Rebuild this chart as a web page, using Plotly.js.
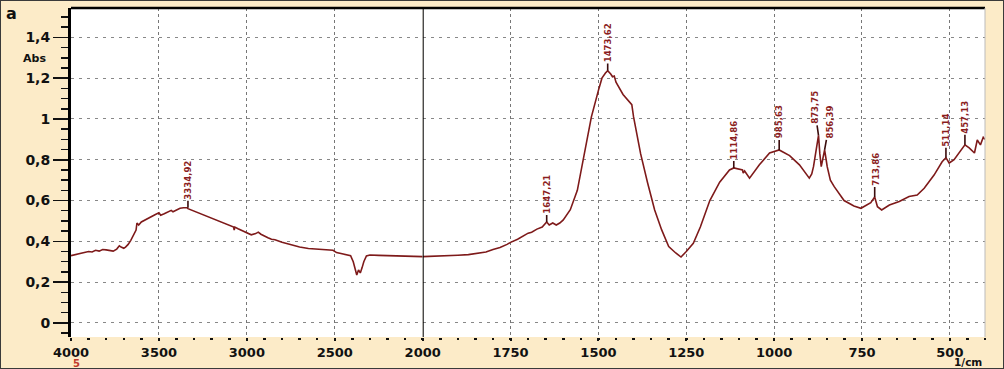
<!DOCTYPE html>
<html>
<head>
<meta charset="utf-8">
<script src="https://cdn.plot.ly/plotly-3.0.1.min.js"></script>
<style>
html,body{margin:0;padding:0;background:#FCEBC8;}
#wrap{position:relative;width:1004px;height:369px;}
#chart{width:1004px;height:369px;}
#frame{position:absolute;left:0;top:0;width:1004px;height:369px;box-sizing:border-box;border:1px solid #3a3a3a;pointer-events:none;}
</style>
</head>
<body>
<div id="wrap"><div id="chart"></div><div id="frame"></div></div>
<script>
// ---- data ----
const wavenumberHigh = [4000,3975,3950,3925,3900,3880,3860,3840,3820,3800,3780,3760,3740,3725,3715,3700,3690,3675,3660,3650,3640,3630,3625,3615,3600,3580,3560,3540,3520,3500,3490,3470,3450,3430,3420,3400,3380,3360,3340,3334.92,3320,3300,3250,3200,3150,3100,3075,3072,3068,3050,3000,2975,2950,2935,2920,2900,2880,2860,2840,2800,2750,2700,2650,2600,2550,2510,2490,2450,2420,2410,2395,2385,2375,2365,2355,2345,2335,2320,2300,2250,2200,2150,2100,2050,2000];
const absHigh = [0.330,0.335,0.340,0.345,0.350,0.348,0.356,0.352,0.360,0.358,0.356,0.352,0.362,0.378,0.372,0.366,0.372,0.385,0.405,0.420,0.440,0.455,0.490,0.480,0.495,0.505,0.515,0.522,0.532,0.540,0.528,0.535,0.545,0.552,0.545,0.555,0.562,0.565,0.565,0.560,0.555,0.548,0.532,0.515,0.497,0.478,0.470,0.455,0.470,0.462,0.440,0.432,0.438,0.445,0.435,0.425,0.418,0.410,0.408,0.395,0.382,0.372,0.365,0.361,0.358,0.356,0.345,0.337,0.333,0.330,0.300,0.260,0.235,0.260,0.245,0.270,0.300,0.328,0.333,0.331,0.330,0.328,0.327,0.326,0.325];

const wavenumberLow = [2000,1950,1900,1870,1850,1820,1800,1780,1760,1750,1730,1710,1700,1690,1675,1660,1647.21,1640,1630,1620,1610,1600,1580,1560,1540,1520,1500,1490,1480,1473.62,1465,1460,1455,1450,1430,1415,1405,1400,1380,1360,1340,1320,1300,1280,1265,1250,1230,1210,1183,1155,1127,1114.86,1100,1090,1088,1084,1070,1042,1013,985.63,956,928,900,893,888,880,873.75,870,866,862,856.39,852,849,840,829,801,773,753,736,725,713.86,706,694,672,644,616,593,573,545,522,511.14,502,488,474,457.13,445,430,422,413,405,400];
const absLow = [0.325,0.327,0.332,0.335,0.340,0.348,0.360,0.370,0.385,0.395,0.410,0.430,0.440,0.445,0.460,0.470,0.495,0.480,0.490,0.480,0.490,0.505,0.555,0.650,0.830,1.010,1.140,1.200,1.225,1.237,1.220,1.207,1.210,1.180,1.120,1.090,1.070,1.010,0.830,0.686,0.554,0.456,0.374,0.343,0.323,0.350,0.390,0.470,0.600,0.690,0.750,0.760,0.755,0.750,0.735,0.745,0.710,0.775,0.833,0.848,0.820,0.775,0.710,0.730,0.766,0.850,0.920,0.830,0.766,0.800,0.848,0.800,0.766,0.700,0.668,0.600,0.573,0.562,0.578,0.590,0.617,0.570,0.554,0.578,0.595,0.620,0.627,0.660,0.725,0.790,0.810,0.784,0.800,0.833,0.873,0.858,0.833,0.897,0.873,0.910,0.900];

const peakWavenumbers = [3334.92,1647.21,1473.62,1114.86,985.63,873.75,856.39,713.86,511.14,457.13];
const peakAbs = [0.565,0.495,1.237,0.760,0.848,0.920,0.848,0.617,0.810,0.873];
const peakLabels = ["3334,92","1647,21","1473,62","1114,86","985,63","873,75","856,39","713,86","511,14","457,13"];

const yTickVals = [0,0.2,0.4,0.6,0.8,1,1.2,1.4];
const yTickText = ["0","0,2","0,4","0,6","0,8","1","1,2","1,4"];
const xHighTicks = [4000,3500,3000,2500,2000];
const xLowTicks = [1750,1500,1250,1000,750,500];
const splitWavenumber = 2000;

// ---- styling ----
const lineColor = '#7E1A1A';
const labelColor = '#8B1E1E';
const xTickFont = {family:'DejaVu Sans, Verdana, sans-serif', size:13, color:'#111', weight:'bold'};
const yTickFont = {family:'DejaVu Sans, Verdana, sans-serif', size:14, color:'#111', weight:'bold'};
const split = 0.3848;

const traces = [
  {x:wavenumberHigh, y:absHigh, xaxis:'x', yaxis:'y', mode:'lines', line:{color:lineColor, width:1.6}, hoverinfo:'skip'},
  {x:wavenumberLow, y:absLow, xaxis:'x2', yaxis:'y', mode:'lines', line:{color:lineColor, width:1.6}, hoverinfo:'skip'}
];

const leaderOffsets = {"873,75":-4, "856,39":5};
const annotations = peakWavenumbers.map((w,i)=>({
  x:w, y:peakAbs[i], xref: w > splitWavenumber ? 'x' : 'x2', yref:'y',
  text:peakLabels[i], textangle:-90,
  font:{family:'Liberation Sans Narrow, DejaVu Sans Condensed, sans-serif', size:9.5, color:labelColor, weight:'bold'},
  showarrow:true, arrowhead:0, arrowwidth:1.6, arrowcolor:'#3a0c0c',
  ax:(leaderOffsets[peakLabels[i]]||0), ay:-28, standoff:0
}));
const freeText = (x, y, text, size, color) => ({xref:'paper', yref:'paper', x:x, y:y, xanchor:'center', yanchor:'middle',
  text:text, showarrow:false, font:{family:'DejaVu Sans, sans-serif', size:size, color:color, weight:'bold'}});
annotations.push(
  freeText(-0.0646, 0.982, 'a', 16, '#111'),
  freeText(-0.0394, 0.848, 'Abs', 11, '#111'),
  freeText(0.0055, -0.080, '5', 10, '#C0392B'),
  freeText(0.981, -0.077, '1/cm', 10.5, '#111')
);

const xCommon = {
  anchor:'y', showline:false, zeroline:false, showgrid:true, gridcolor:'#777', griddash:'dot', gridwidth:1,
  ticks:'outside', ticklen:3, tickwidth:2, tickcolor:'#111', tickfont:xTickFont, fixedrange:true
};

const layout = {
  width:1004, height:369,
  margin:{l:71, r:19, t:8, b:32, pad:0},
  paper_bgcolor:'#FCEBC8', plot_bgcolor:'#FFFFFF',
  showlegend:false,
  xaxis: Object.assign({}, xCommon, {domain:[0, split], range:[4000, 2000], tickmode:'array', tickvals:xHighTicks,
    minor:{dtick:100, tick0:0, ticks:'outside', ticklen:2, tickwidth:2.5, tickcolor:'#111', showgrid:false}}),
  xaxis2: Object.assign({}, xCommon, {domain:[split, 1], range:[2000, 400], tickmode:'array', tickvals:xLowTicks,
    minor:{dtick:50, tick0:0, ticks:'outside', ticklen:2, tickwidth:2.5, tickcolor:'#111', showgrid:false}}),
  yaxis: {
    range:[-0.069, 1.544], tickmode:'array', tickvals:yTickVals, ticktext:yTickText,
    showline:true, linewidth:3, linecolor:'#000', ticks:'outside', ticklen:15, tickwidth:1.5, tickcolor:'#111',
    minor:{dtick:0.05, tick0:0, ticks:'outside', ticklen:7, tickwidth:1.5, tickcolor:'#111', showgrid:false},
    showgrid:true, gridcolor:'#888', griddash:'3px,5px', gridwidth:1, zeroline:false,
    tickfont:yTickFont, fixedrange:true
  },
  shapes:[
    {type:'line', xref:'x2', yref:'paper', x0:splitWavenumber, x1:splitWavenumber, y0:0, y1:1, line:{color:'#000', width:2}},
    {type:'line', xref:'paper', yref:'paper', x0:0, x1:1, y0:1, y1:1, line:{color:'#000', width:2.5}},
    {type:'line', xref:'paper', yref:'paper', x0:1, x1:1, y0:0, y1:1, line:{color:'#bbb', width:1}}
  ],
  annotations:annotations
};

Plotly.newPlot('chart', traces, layout, {staticPlot:true, displayModeBar:false});
</script>
</body>
</html>
